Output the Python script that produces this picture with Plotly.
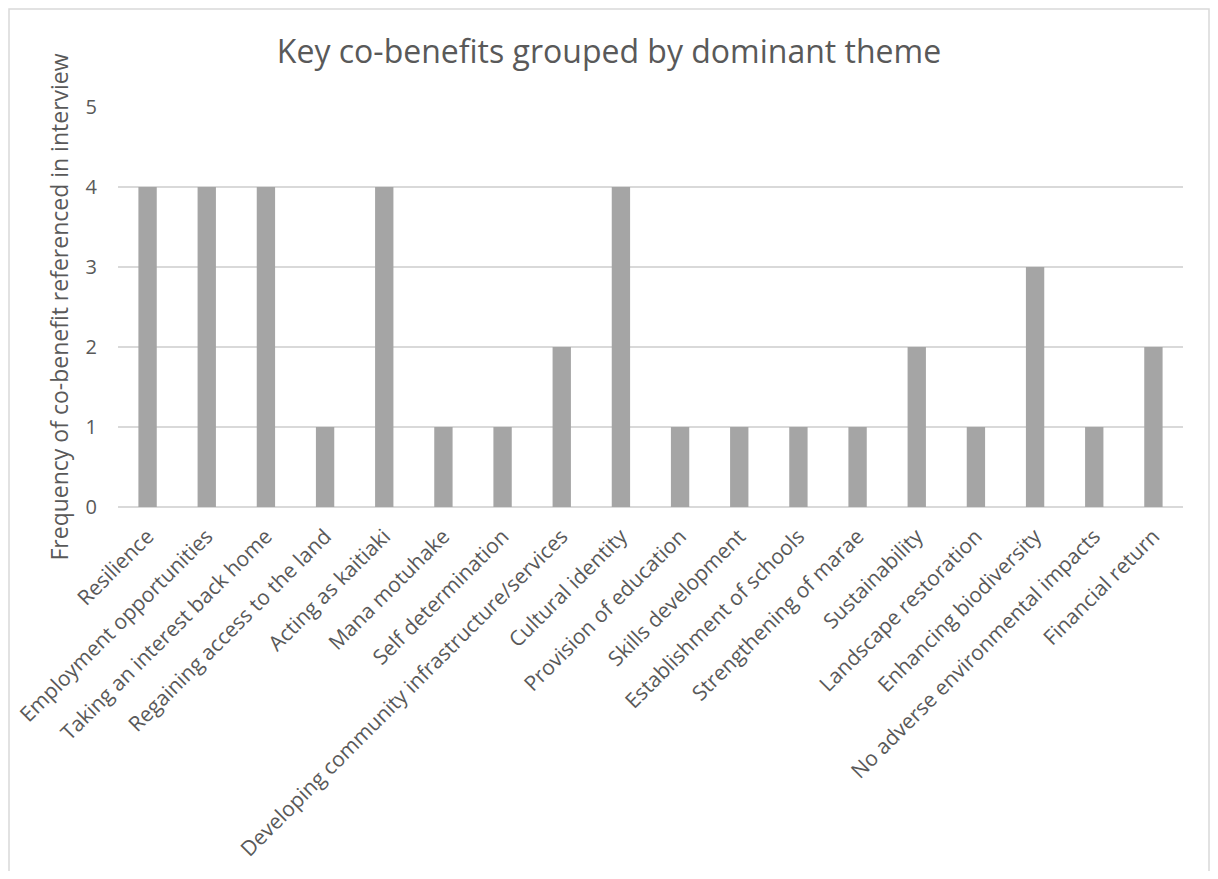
import plotly.graph_objects as go

categories = [
    "Resilience", "Employment opportunities", "Taking an interest back home",
    "Regaining access to the land", "Acting as kaitiaki", "Mana motuhake",
    "Self determination", "Developing community infrastructure/services",
    "Cultural identity", "Provision of education", "Skills development",
    "Establishment of schools", "Strengthening of marae", "Sustainability",
    "Landscape restoration", "Enhancing biodiversity",
    "No adverse environmental impacts", "Financial return",
]
values = [4, 4, 4, 1, 4, 1, 1, 2, 4, 1, 1, 1, 1, 2, 1, 3, 1, 2]
y_ticks = [0, 1, 2, 3, 4, 5]

# page has an 8px body margin; figure coords = page coords - 8
W, H = 1202, 863
L, R, T, B = 110, 1175, 99, 499
FONT = "'Open Sans', sans-serif"
GREY = "#595959"

fig = go.Figure(go.Bar(
    x=categories, y=values, marker=dict(color="#a5a5a5", line=dict(width=0)),
    hoverinfo="x+y",
))

pw, ph = R - L, B - T
def px(x): return (x - L) / pw
def py(y): return (B - y) / ph

fig.update_layout(
    width=W, height=H,
    margin=dict(l=L, r=W - R, t=T, b=H - B, autoexpand=False),
    paper_bgcolor="white", plot_bgcolor="white",
    bargap=0.69,
    showlegend=False,
    font=dict(family=FONT, color=GREY),
    title=dict(text="Key co-benefits grouped by dominant theme",
               x=0.5, xref="container", xanchor="center",
               y=1 - 43.5 / H, yref="container", yanchor="middle",
               font=dict(size=32, color=GREY, family=FONT)),
    xaxis=dict(tickangle=-45, tickfont=dict(size=21, color=GREY, family=FONT),
               showgrid=False, showline=False, ticks="", automargin=False,
               ticklabelstandoff=12),
    yaxis=dict(range=[0, 5], tickvals=y_ticks, showgrid=True, gridcolor="#d9d9d9",
               gridwidth=1.5, zeroline=True, zerolinecolor="#d9d9d9", zerolinewidth=1.5,
               showline=False, ticks="", ticklabelstandoff=20,
               tickfont=dict(size=20, color=GREY, family=FONT), automargin=False,
               title=dict(text="Frequency of co-benefit referenced in interview",
                          font=dict(size=23, color=GREY, family=FONT), standoff=10)),
    shapes=[dict(type="rect", xref="paper", yref="paper",
                 x0=px(1), x1=px(W - 1), y0=py(H + 50), y1=py(1),
                 line=dict(color="#d9d9d9", width=1.5), layer="below")],
)

fig.write_html("out.html")
